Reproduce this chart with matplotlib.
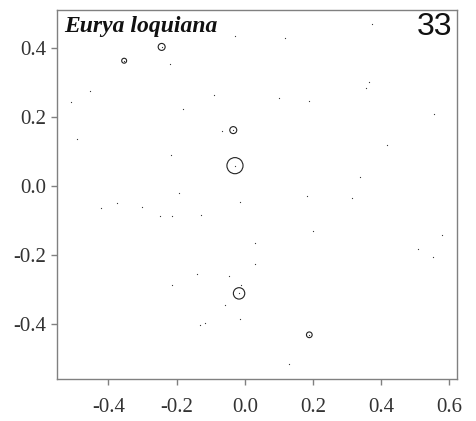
import matplotlib
matplotlib.use("Agg")
import numpy as np
import matplotlib.pyplot as plt

plt.rcParams["axes.unicode_minus"] = False

# ordination scores of sample plots, with stem counts of the species
plot_x = [-0.029, -0.244, -0.220, -0.354, -0.454, -0.510, -0.090, -0.181, -0.068, -0.034,
          -0.491, -0.218, -0.029, 0.373, 0.117, 0.364, 0.356, 0.101, 0.187, 0.554,
          0.416, 0.339, -0.194, -0.423, -0.376, -0.303, -0.250, -0.214, -0.128, -0.013,
          0.030, 0.030, -0.140, -0.047, -0.011, -0.017, -0.214, -0.058, -0.015, -0.133,
          -0.116, 0.183, 0.313, 0.201, 0.578, 0.509, 0.553, 0.189, 0.129]
plot_y = [0.435, 0.402, 0.353, 0.362, 0.275, 0.243, 0.263, 0.221, 0.158, 0.161,
          0.135, 0.089, 0.058, 0.468, 0.428, 0.300, 0.283, 0.253, 0.246, 0.207,
          0.119, 0.026, -0.022, -0.066, -0.051, -0.061, -0.087, -0.089, -0.084, -0.048,
          -0.167, -0.228, -0.257, -0.261, -0.289, -0.312, -0.287, -0.346, -0.387, -0.404,
          -0.397, -0.029, -0.035, -0.132, -0.143, -0.184, -0.208, -0.432, -0.517]
stems = [0, 3, 0, 1.5, 0, 0, 0, 0, 0, 3,
         0, 0, 16, 0, 0, 0, 0, 0, 0, 0,
         0, 0, 0, 0, 0, 0, 0, 0, 0, 0,
         0, 0, 0, 0, 0, 8, 0, 0, 0, 0,
         0, 0, 0, 0, 0, 0, 0, 2, 0]

species = "Eurya loquiana"
panel_no = "33"

x = np.array(plot_x)
y = np.array(plot_y)
n = np.array(stems, dtype=float)

fig = plt.figure(figsize=(4.76, 4.21), dpi=100)
ax = fig.add_axes([0.1197, 0.0998, 0.8403, 0.8765])

# every plot as a tiny dot, plots holding the species as open circles
ax.scatter(x, y, s=0.8, c="#333333", marker="o", linewidths=0, zorder=2)
occ = n > 0
diam_pt = 2.9 * np.sqrt(n[occ])
ax.scatter(x[occ], y[occ], s=diam_pt ** 2, facecolors="none", edgecolors="#222222",
           linewidths=0.8, zorder=3)

ax.set_xlim(-0.551, 0.622)
ax.set_ylim(-0.560, 0.509)
ax.set_xticks([-0.4, -0.2, 0.0, 0.2, 0.4, 0.6])
ax.set_yticks([-0.4, -0.2, 0.0, 0.2, 0.4])
ax.set_xticklabels(["-0.4", "-0.2", "0.0", "0.2", "0.4", "0.6"])
ax.set_yticklabels(["-0.4", "-0.2", "0.0", "0.2", "0.4"])

for sp in ax.spines.values():
    sp.set_color("#808080")
    sp.set_linewidth(1.0)
ax.tick_params(axis="both", direction="out", length=4.5, width=1.0, color="#808080",
               labelsize=15, labelcolor="#333333")
ax.tick_params(axis="x", pad=9)
ax.tick_params(axis="y", pad=3)
for lab in ax.get_xticklabels() + ax.get_yticklabels():
    lab.set_family("Liberation Serif")

ax.text(0.018, 0.985, species, transform=ax.transAxes, ha="left", va="top",
        family="Liberation Serif", style="italic", weight="bold", fontsize=17, color="#111111")
ax.text(0.988, 0.995, panel_no, transform=ax.transAxes, ha="right", va="top",
        family="Liberation Sans", fontsize=23, color="#111111")

fig.savefig("out.png", dpi=100)
